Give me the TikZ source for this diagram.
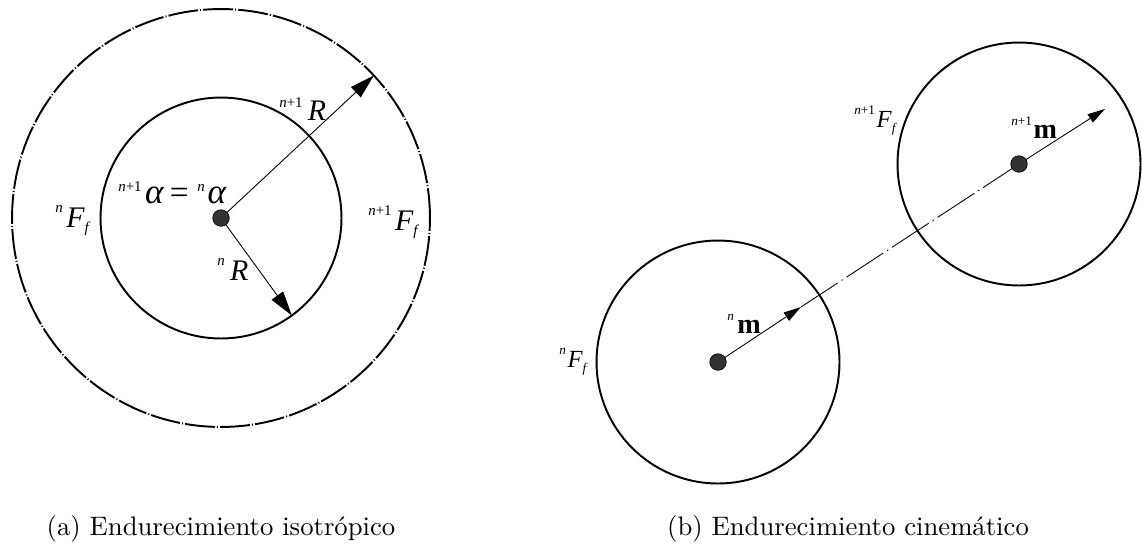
\documentclass[tikz,border=0pt]{standalone}
\usepackage{fontspec}
\newfontfamily\tnr{Liberation Serif}
\newfontfamily\capf{lmroman10-regular.otf}
\usetikzlibrary{arrows.meta,calc}
\newcommand\supa[1]{{\fontsize{8.5}{9}\selectfont #1}}
\newcommand\supb[1]{{\fontsize{7.5}{8}\selectfont #1}}
\begin{document}
\begin{tikzpicture}[x=0.02cm,y=-0.02cm,
  ring/.style={circle,draw,line width=1.1pt,inner sep=0pt,outer sep=0pt},
  dot/.style={circle,fill=black!80,draw=black,line width=0.4pt,minimum size=0.33cm,inner sep=0pt,outer sep=0pt},
  bigarrow/.style={line width=0.5pt,-{Triangle[length=14pt,width=8pt]}},
  smallarrow/.style={line width=0.5pt,-{Triangle[length=10pt,width=5.5pt]}},
  lab/.style={inner sep=0pt,anchor=base west,font=\tnr\fontsize{17}{19}\selectfont},
  labb/.style={inner sep=0pt,anchor=base west,font=\tnr\fontsize{14}{16}\selectfont},
  captxt/.style={inner sep=0pt,anchor=base,font=\capf\fontsize{15.2}{18}\selectfont}]
\path[use as bounding box] (0,0) rectangle (1142,545);

% (a) isotropic
\node[ring,minimum size=8.36cm,dash pattern=on 17pt off 1.2pt on 0.6pt off 1.2pt] (outA) at (221,218) {};
\node[ring,minimum size=4.82cm] (inA) at (221,218) {};
\node[dot] (dA) at (221,218) {};
\draw[bigarrow] (dA) -- (outA.43.3);
\draw[bigarrow] (dA) -- (inA.-54.7);

\node[lab] (lR1) at (279,120) {\raisebox{7pt}{\supa{\itshape n\upshape+1}}\hspace{3pt}\itshape R};
\node[lab] (lal) at (118,203) {\raisebox{6.3pt}{\supa{\itshape n\upshape+1}}\hspace{2pt}{\fontsize{20}{22}\selectfont\itshape α}\hspace{3.5pt}{\fontsize{19}{21}\selectfont =}\hspace{5pt}\raisebox{6.3pt}{\supa{\itshape n}}\hspace{1.5pt}{\fontsize{20}{22}\selectfont\itshape α}};
\node[lab] (lFa) at (55,227) {\raisebox{8pt}{\supa{\itshape n}}\hspace{2pt}\itshape F\raisebox{-3pt}{\supa{\itshape f}}};
\node[lab] (lFb) at (368,230) {\raisebox{8pt}{\supa{\itshape n\upshape+1}}\hspace{2pt}\itshape F\raisebox{-3pt}{\supa{\itshape f}}};
\node[lab] (lR0) at (217,280) {\raisebox{8pt}{\supa{\itshape n}}\hspace{3pt}\itshape R};

% (b) kinematic
\node[ring,minimum size=4.86cm] (lowB) at (718,362) {};
\node[ring,minimum size=4.86cm] (upB) at (1019,164) {};
\node[dot] (dB1) at (718,362) {};
\node[dot] (dB2) at (1019,164) {};
\coordinate (tB1) at (801,307);
\coordinate (tB2) at (1105,109);
\draw[smallarrow] (dB1) -- (tB1);
\draw[smallarrow] (dB2) -- (tB2);
\draw[line width=0.5pt,dash pattern=on 25pt off 2.6pt on 0.8pt off 2.6pt] (tB1) -- (dB2);

\node[labb] (lm0) at (727,333) {\raisebox{7pt}{\supb{\itshape n}}\hspace{2pt}{\fontsize{16}{18}\selectfont\bfseries m}};
\node[labb] (lm1) at (1011,138) {\raisebox{7pt}{\supb{\itshape n\upshape+1}}\hspace{1pt}{\fontsize{16}{18}\selectfont\bfseries m}};
\node[labb] (lFc) at (559,367) {\raisebox{7pt}{\supb{\itshape n}}\hspace{1pt}\itshape F\raisebox{-3pt}{\supb{\itshape f}}};
\node[labb] (lFd) at (854,127) {\raisebox{7pt}{\supb{\itshape n\upshape+1}}\hspace{1pt}\itshape F\raisebox{-3pt}{\supb{\itshape f}}};

% captions
\node[captxt] (capA) at (221,535) {(a) Endurecimiento isotrópico};
\node[captxt] (capB) at (848,535) {(b) Endurecimiento cinemático};
\end{tikzpicture}
\end{document}
